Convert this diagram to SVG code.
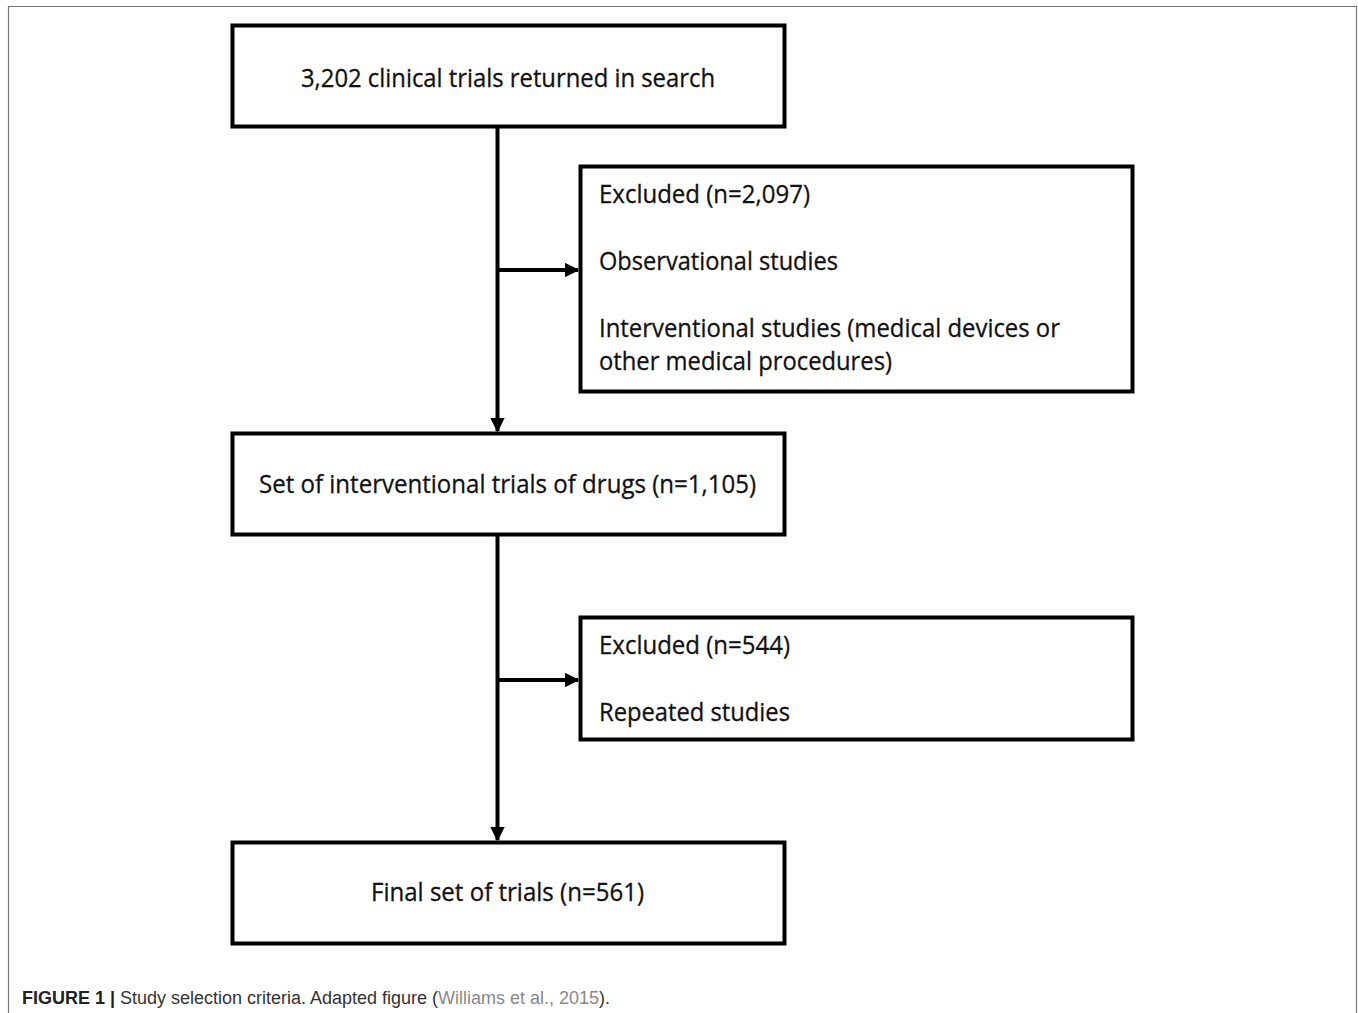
<svg xmlns="http://www.w3.org/2000/svg" width="1358" height="1013" viewBox="0 0 1358 1013">
<style>
.box{fill:#fff;stroke:#000;stroke-width:4}
.t{font-family:"Open Sans","Noto Sans",sans-serif;font-size:25px;font-weight:500;fill:#111;stroke:#111;stroke-width:0.3}
.conn{stroke:#000;stroke-width:4;fill:none}
.cap{font-family:"Liberation Sans",Arial,sans-serif;font-size:18px;fill:#333}
</style>
<defs>
<marker id="ah" viewBox="0 0 10 10" refX="9" refY="5" markerWidth="3.6" markerHeight="3.6" orient="auto" markerUnits="strokeWidth">
<path d="M0,0 L10,5 L0,10 z" fill="#000"/>
</marker>
</defs>
<rect width="1358" height="1013" fill="#fff"/>
<path d="M8.5,1013 V6.5 H1356.5 V1013" fill="none" stroke="#777" stroke-width="1.2"/>
<g id="connectors">
<line class="conn" x1="497.5" y1="127" x2="497.5" y2="431" marker-end="url(#ah)"/>
<line class="conn" x1="497.5" y1="270" x2="578" y2="270" marker-end="url(#ah)"/>
<line class="conn" x1="497.5" y1="534" x2="497.5" y2="840" marker-end="url(#ah)"/>
<line class="conn" x1="497.5" y1="680" x2="578" y2="680" marker-end="url(#ah)"/>
</g>
<g id="n1">
<rect class="box" x="232.5" y="25.5" width="552" height="101"/>
<text class="t" x="301" y="87" textLength="414" lengthAdjust="spacingAndGlyphs">3,202 clinical trials returned in search</text>
</g>
<g id="n2">
<rect class="box" x="580.5" y="166.5" width="552" height="225"/>
<text class="t" x="599" y="203" textLength="211" lengthAdjust="spacingAndGlyphs">Excluded (n=2,097)</text>
<text class="t" x="599" y="270" textLength="239" lengthAdjust="spacingAndGlyphs">Observational studies</text>
<text class="t" x="599" y="337" textLength="461" lengthAdjust="spacingAndGlyphs">Interventional studies (medical devices or</text>
<text class="t" x="599" y="370" textLength="293" lengthAdjust="spacingAndGlyphs">other medical procedures)</text>
</g>
<g id="n3">
<rect class="box" x="232.5" y="433.5" width="552" height="101"/>
<text class="t" x="259" y="493" textLength="497" lengthAdjust="spacingAndGlyphs">Set of interventional trials of drugs (n=1,105)</text>
</g>
<g id="n4">
<rect class="box" x="580.5" y="617.5" width="552" height="122"/>
<text class="t" x="599" y="654" textLength="191" lengthAdjust="spacingAndGlyphs">Excluded (n=544)</text>
<text class="t" x="599" y="721" textLength="191" lengthAdjust="spacingAndGlyphs">Repeated studies</text>
</g>
<g id="n5">
<rect class="box" x="232.5" y="842.5" width="552" height="101"/>
<text class="t" x="371" y="901" textLength="273" lengthAdjust="spacingAndGlyphs">Final set of trials (n=561)</text>
</g>
<text class="cap" x="22" y="1004" textLength="588" lengthAdjust="spacingAndGlyphs"><tspan font-weight="bold" fill="#222">FIGURE 1 |</tspan> Study selection criteria. Adapted figure (<tspan fill="#888">Williams et al., 2015</tspan>).</text>
</svg>
